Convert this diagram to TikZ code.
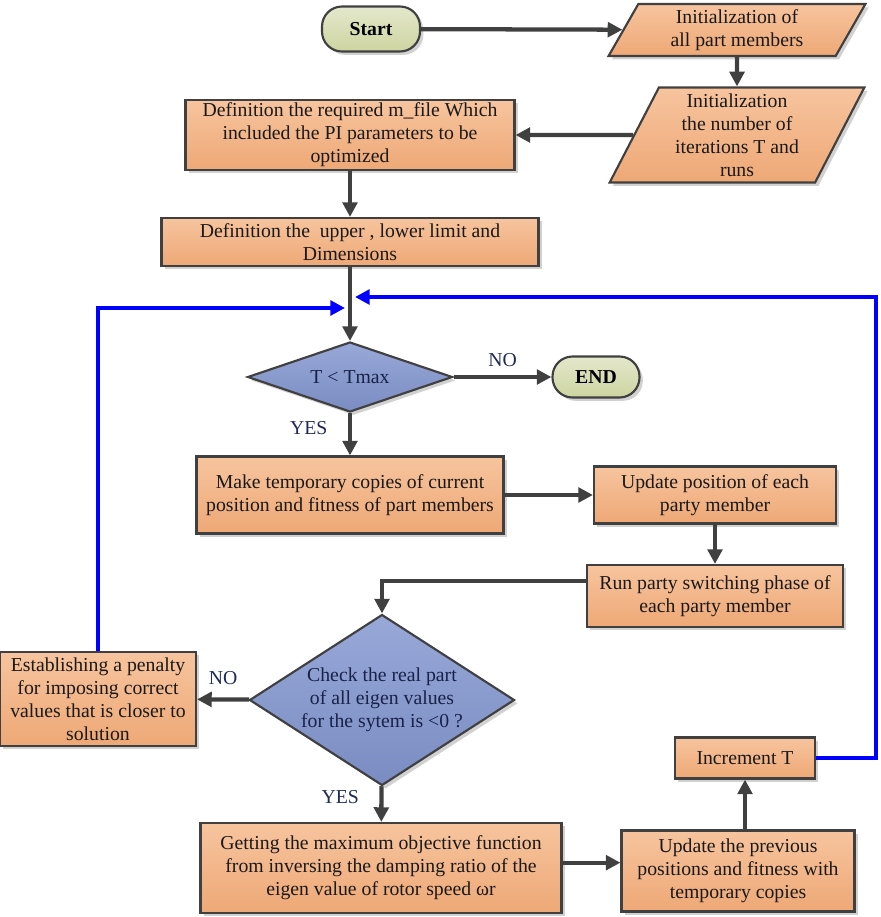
\documentclass[tikz,border=0pt]{standalone}
\usepackage{fontspec}
\setmainfont{Liberation Serif}
\usepackage{xcolor}
\usepackage{tikz}
\usetikzlibrary{arrows.meta,positioning,shapes,shadows}

\definecolor{boxtop}{RGB}{247,196,158}
\definecolor{boxbot}{RGB}{238,168,118}
\definecolor{dectop}{RGB}{152,168,216}
\definecolor{decbot}{RGB}{122,140,194}
\definecolor{termtop}{RGB}{228,232,204}
\definecolor{termbot}{RGB}{205,212,160}
\definecolor{linegray}{RGB}{64,64,64}
\definecolor{lblnavy}{RGB}{30,42,90}

\begin{document}
\begin{tikzpicture}[
    x=0.75pt, y=-0.75pt,
    font=\fontsize{14.8}{17.25}\selectfont,
    box/.style={rectangle, draw=linegray, line width=1.6pt, top color=boxtop, bottom color=boxbot,
                align=center, inner sep=1pt, text=black!90,
                drop shadow={shadow xshift=2.5pt, shadow yshift=-2.5pt, fill=black!30, opacity=.6}},
    iobox/.style={box, trapezium, trapezium stretches=true,
                  trapezium left angle=65, trapezium right angle=115},
    term/.style={rectangle, rounded corners=15pt, draw=linegray, line width=1.6pt,
                 top color=termtop, bottom color=termbot, font=\fontsize{14.8}{17.25}\selectfont\bfseries,
                 drop shadow={shadow xshift=2.5pt, shadow yshift=-2.5pt, fill=black!30, opacity=.6}},
    dec/.style={diamond, draw=linegray, line width=1.6pt, top color=dectop, bottom color=decbot,
                align=center, inner sep=0pt, text=lblnavy!80!black,
                drop shadow={shadow xshift=2.5pt, shadow yshift=-2.5pt, fill=black!30, opacity=.6}},
    arr/.style={-{Triangle[length=11pt, width=11pt]}, line width=3.2pt, linegray},
    loop/.style={-{Triangle[length=11pt, width=11pt]}, line width=2.8pt, blue},
    lbl/.style={text=lblnavy}
]
    \useasboundingbox (0,0) rectangle (881,917);

    \node[term] (start) at (371,29) [minimum width=73.5pt, minimum height=33.75pt] {Start};
    \node[iobox] (init1) at (737,30) [minimum width=192.75pt, minimum height=39pt]
        {Initialization of\\all part members};
    \node[iobox] (init2) at (737,135) [minimum width=191.25pt, minimum height=71.25pt]
        {Initialization\\the number of\\iterations T and\\runs};
    \node[box] (mfile) at (350,135) [minimum width=246.75pt, minimum height=52.5pt]
        {Definition the required m\_file Which\\included the PI parameters to be\\optimized};
    \node[box] (limits) at (350,242) [minimum width=282.75pt, minimum height=36pt]
        {Definition the \ upper , lower limit and\\Dimensions};
    \node[dec, shape aspect=2.9] (tcheck) at (350,377) [minimum width=153.75pt, minimum height=52.5pt] {T < Tmax};
    \node[term] (stop) at (596,377) [minimum width=65.25pt, minimum height=30.75pt] {END};
    \node[box] (copies) at (350,495) [minimum width=230.25pt, minimum height=57.75pt]
        {Make temporary copies of current\\position and fitness of part members};
    \node[box] (updpos) at (715,495) [minimum width=181.5pt, minimum height=42.75pt]
        {Update position of each\\party member};
    \node[box] (switch) at (715,596) [minimum width=192pt, minimum height=46.5pt]
        {Run party switching phase of\\each party member};
    \node[dec, shape aspect=1.55] (eigen) at (382,700) [minimum width=198.75pt, minimum height=128.25pt]
        {Check the real part\\of all eigen values\\for the sytem is <0 ?};
    \node[box] (penalty) at (98,699) [minimum width=147pt, minimum height=70.5pt]
        {Establishing a penalty\\for imposing correct\\values that is closer to\\solution};
    \node[box] (objfun) at (381,868) [minimum width=270.75pt, minimum height=67.5pt]
        {Getting the maximum objective function\\from inversing the damping ratio of the\\eigen value of rotor speed ωr};
    \node[box] (update) at (738,871) [minimum width=174.75pt, minimum height=60.75pt]
        {Update the previous\\positions and fitness with\\temporary copies};
    \node[box] (incr) at (745,758) [minimum width=105pt, minimum height=30.75pt] {Increment T};

    \coordinate (joinl) at (345,308);
    \coordinate (joinr) at (355,297);

    \draw[arr] (start) -- (init1);
    \draw[arr] (init1) -- (init2);
    \draw[arr] (init2) -- (mfile);
    \draw[arr] (mfile) -- (limits);
    \draw[arr] (limits) -- (tcheck);
    \draw[arr] (tcheck) -- (stop) node[lbl, midway, above=3pt] {NO};
    \draw[arr] (tcheck) -- (copies) node[lbl, pos=0.35, left=12pt] {YES};
    \draw[arr] (copies) -- (updpos);
    \draw[arr] (updpos) -- (switch);
    \draw[arr] ([yshift=11pt]switch.west) -| (eigen.north);
    \draw[arr] (eigen) -- (penalty) node[lbl, midway, above=6pt] {NO};
    \draw[arr] (eigen) -- (objfun) node[lbl, pos=0.3, left=12pt] {YES};
    \draw[arr] ([yshift=4pt]objfun.east) -- ([yshift=4pt]objfun.east -| update.west);
    \draw[arr] (update.north -| incr) -- (incr);

    % loops back to the iteration test
    \draw[loop] (penalty.north) |- (joinl);
    \draw[loop] (incr.east) -- ++(60,0) |- (joinr);
\end{tikzpicture}
\end{document}
